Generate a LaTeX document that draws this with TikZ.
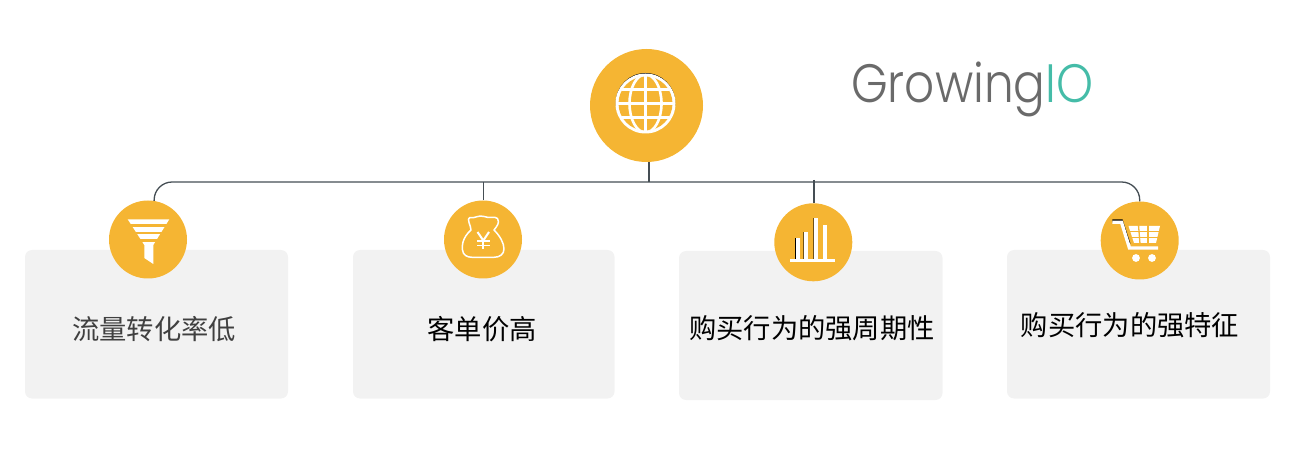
\documentclass[tikz,border=0pt]{standalone}
\usepackage{fontspec}
\newfontfamily\cjk{Noto Sans CJK SC}
\newfontfamily\logofont[UprightFont=* Light]{Poppins}
\definecolor{gold}{HTML}{F5B533}
\definecolor{card}{HTML}{F2F2F2}
\definecolor{wire}{HTML}{454E54}
\definecolor{logogrey}{HTML}{6A6A6A}
\definecolor{logoteal}{HTML}{45BCA8}
\tikzset{
  x=1pt,y=-1pt,
  cardbox/.style={fill=card,draw=none,rounded corners=7pt},
  disc/.style={circle,fill=gold,draw=none,inner sep=0pt,minimum size=78pt},
  wirepath/.style={draw=wire,line width=1.3pt},
  caption/.style={font=\cjk\fontsize{27.3}{30}\selectfont,inner sep=0pt},
  iconline/.style={draw=white,line width=2.6pt},
  iconfill/.style={fill=white,draw=none},
}
\begin{document}
\begin{tikzpicture}
\useasboundingbox (0,0) rectangle (1310,449);
% cards
\fill[cardbox] (25,250) rectangle (288,398.5);
\fill[cardbox] (353,250) rectangle (614.5,398.5);
\fill[cardbox] (679,251) rectangle (942.5,400);
\fill[cardbox] (1007,250) rectangle (1270,398.5);
% discs
\node[disc,minimum size=113pt] (hub) at (646.5,105.5) {};
\node[disc] (funnel) at (148,239.5) {};
\node[disc] (money) at (483,239.5) {};
\node[disc] (chart) at (813.3,242.3) {};
\node[disc] (cart) at (1139.7,240.5) {};
% connectors
\coordinate (busmid) at (649,182);
\coordinate (busmoney) at (483.3,182);
\coordinate (buschart) at (814,180);
\draw[wirepath,rounded corners=18pt] (funnel.81) |- (busmid) -| (cart.north);
\draw[wirepath] (busmid |- hub.south) -- (busmid);
\draw[wirepath] (busmoney) -- (busmoney |- money.north);
\draw[wirepath] (buschart) -- (buschart |- chart.north);
% globe
\begin{scope}[shift={(645.5,103.5)}]
  \draw[black,line width=0.8pt] (0,-0.8) circle (29.3);
  \fill[white] (0,0) circle (30);
  \fill[gold] (0,0) circle (27);
  \begin{scope}
    \clip (0,0) circle (27.5);
    \draw[iconline] (0,-30) -- (0,30);
    \draw[iconline] (0,0) ellipse (16 and 29);
    \draw[iconline] (-30,0) -- (30,0);
    \draw[iconline] (-30,-14) -- (30,-14);
    \draw[iconline] (-30,14) -- (30,14);
  \end{scope}
\end{scope}
% funnel
\fill[iconfill] (127.7,219.3) -- (169.3,219.3) -- (153.3,245) -- (153.3,264) -- (144.3,258) -- (144.3,245) -- cycle;
\fill[gold] (125,224) rectangle (172,227.3);
\fill[gold] (125,232.5) rectangle (172,234.4);
\fill[gold] (125,239) rectangle (172,241.6);
% money bag
\draw[white,line width=1.5pt,line join=round] (471,230)
  .. controls (462,238) and (462,246) .. (462.5,250)
  .. controls (463,255) and (467,257.3) .. (472,257.3)
  -- (494,257.3)
  .. controls (500,257.3) and (504,254) .. (504,249)
  .. controls (504,243) and (500,236) .. (494,230)
  .. controls (497,226) and (500,223) .. (497.5,218.5)
  .. controls (494,215.5) and (490,219) .. (484,216.5)
  .. controls (479,214.5) and (474,219) .. (470,217.5)
  .. controls (466,218) and (471,226) .. (471,230) -- cycle;
\draw[white,line width=2pt] (477.5,232) -- (483.3,240.5) -- (489,232);
\draw[white,line width=2pt] (483.3,240.5) -- (483.3,249.5);
\draw[white,line width=1.8pt] (477,241) -- (489.5,241);
\draw[white,line width=1.8pt] (477,245.5) -- (489.5,245.5);
% chart
\fill[black] (795,238.5) rectangle (797,259.5);
\fill[black!55!gold] (802.8,232) rectangle (804.5,259.5);
\fill[black!55!gold] (813,218.3) rectangle (814.5,259.5);
\fill[iconfill] (796,238.3) rectangle (799.8,260);
\fill[iconfill] (803.8,232) rectangle (807.8,260);
\fill[iconfill] (813.8,218.3) rectangle (817.8,260);
\fill[iconfill] (823.3,225.3) rectangle (827,260);
\fill[iconfill] (790,259.3) rectangle (835,262.4);
% cart
\draw[black,line width=3pt] (1112.3,221) -- (1121.5,221) -- (1129,244);
\draw[white,line width=3.4pt] (1112.3,222.3) -- (1121.5,222.3) -- (1129.5,248) -- (1158,248);
\fill[iconfill] (1128.5,226) -- (1160,226) -- (1156,243) -- (1134,243) -- cycle;
\draw[gold,line width=1.3pt] (1130,231.3) -- (1160,231.3);
\draw[gold,line width=1.3pt] (1130,237.3) -- (1160,237.3);
\draw[gold,line width=1.3pt] (1138.5,225) -- (1140,244);
\draw[gold,line width=1.3pt] (1148,225) -- (1148,244);
\fill[white] (1136,258) circle (3.9);
\fill[white] (1152,258) circle (3.9);
% logo
\node[anchor=base west,inner sep=0pt,font=\logofont\fontsize{54}{60}\selectfont] (logo) at (851,103)
  {\scalebox{0.87}[1]{\textcolor{logogrey}{Growing}\textcolor{logoteal}{IO}}};
% captions
\node[caption,text=black!75] (t1) at (154,329) {流量转化率低};
\node[caption,text=black] (t2) at (482,329) {客单价高};
\node[caption,text=black] (t3) at (812,328) {购买行为的强周期性};
\node[caption,text=black] (t4) at (1130,325) {购买行为的强特征};
\end{tikzpicture}
\end{document}
